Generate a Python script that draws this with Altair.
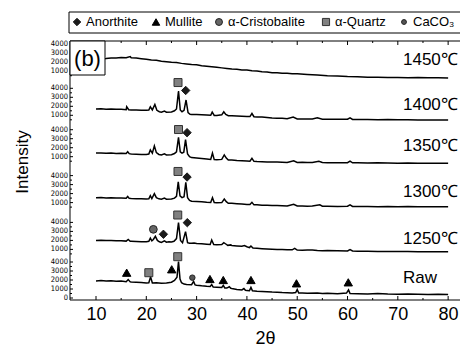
import altair as alt
import pandas as pd

# ---------------- data ----------------
groups = ["Raw", "1250", "1300", "1350", "1400", "1450"]
group_labels = ["Raw", "1250℃", "1300℃", "1350℃", "1400℃", "1450℃"]
offsets = [0, 4400, 9600, 14700, 19300, 24200]
x_ticks = [10, 20, 30, 40, 50, 60, 70, 80]
x_minor = [15, 25, 35, 45, 55, 65, 75]
y_tick_values = [1000, 2000, 3000, 4000]

raw_xrd = [(10,1900),(11,1950),(12,1880),(13,1920),(14,1850),(15,1880),(16,1800),(16.4,2050),(16.8,1790),
           (17,1780),(18,1750),(19,1720),(20,1680),(20.5,1700),(20.85,2350),(21.2,1680),(22,1700),(23,1650),
           (24,1680),(25,1750),(25.6,1950),(26.1,2300),(26.4,4050),(26.7,2100),(27.0,1700),(27.5,1550),
           (28,1500),(29,1480),(29.4,1850),(29.7,1450),(30,1420),(31,1350),(32,1300),(32.7,1280),(33.0,1500),
           (33.3,1220),(34,1200),(35,1180),(35.3,1400),(35.6,1120),(36,1100),(36.5,1250),(36.8,1080),(37,1050),
           (38,950),(39,900),(39.4,1050),(39.7,850),(40,820),(40.5,800),(40.8,1180),(41.1,800),(42,750),
           (43,720),(44,700),(45,660),(46,650),(47,600),(48,580),(49,560),(49.7,600),(50.0,950),(50.3,560),
           (51,550),(52,520),(54,550),(55,500),(56,520),(58,480),(59.8,550),(60.2,900),(60.5,500),(62,480),
           (64,450),(66,500),(68,440),(70,420),(72,450),(74,420),(76,400),(78,420),(80,400)]

t1250_xrd = [(10,2000),(11,2020),(12,1980),(13,2000),(14,1950),(15,1970),(16,1920),(16.4,2100),(16.8,1900),
             (17,1900),(18,1880),(19,1850),(20,1860),(20.5,1900),(20.8,2250),(21.1,1950),(21.4,2100),(21.8,2450),
             (22.2,2000),(22.6,1850),(23,1780),(23.6,1950),(24,1800),(24.5,1850),(25,1820),(25.5,1900),
             (26.0,2200),(26.4,3970),(26.8,2000),(27.2,1750),(27.8,2970),(28.2,1750),(28.6,1680),(29,1680),
             (29.5,1720),(30,1650),(31,1620),(32,1580),(32.7,1550),(33.0,2050),(33.4,1550),(34,1520),(35,1550),
             (35.4,1750),(35.8,1600),(36.2,1450),(36.8,1500),(37,1420),(38,1380),(39,1350),(39.5,1420),
             (40,1300),(40.5,1200),(40.8,1380),(41.2,1150),(42,1120),(43,1080),(44,1050),(45,1020),(46,1000),
             (47,1000),(48,950),(49,950),(49.5,1120),(50,920),(51,900),(52,920),(53,930),(54,880),(55,860),
             (56,880),(58,850),(60,820),(60.5,980),(61,820),(62,800),(64,800),(66,780),(68,780),(70,760),
             (72,770),(74,750),(76,740),(78,750),(80,740)]

t1300_xrd = [(10,1550),(11,1560),(12,1520),(13,1540),(14,1500),(15,1520),(16,1480),(16.3,1680),(16.6,1470),
             (17,1450),(18,1440),(19,1420),(20,1400),(20.5,1420),(20.8,1770),(21.1,1450),(21.6,2000),(22.0,1550),
             (22.5,1420),(23,1380),(23.6,1500),(24,1380),(25,1400),(25.6,1500),(26.0,1700),(26.35,3300),
             (26.7,1750),(27.1,1550),(27.5,1650),(27.85,3250),(28.2,1550),(28.6,1250),(29,1150),(30,1120),
             (31,1100),(32,1050),(32.8,1020),(33.15,1550),(33.5,1000),(34,980),(35,1000),(35.5,1400),(35.9,1100),
             (36.3,920),(37,920),(38,880),(39,850),(40,800),(40.6,780),(41.0,1030),(41.4,750),(42,750),(43,700),
             (44,700),(45,680),(46,680),(47,650),(48,620),(49.3,820),(50,620),(51,620),(52,600),(53,620),
             (54.5,750),(55,600),(56,600),(58,580),(60,600),(60.5,760),(61,580),(62,560),(64,570),(66,550),
             (68,580),(70,550),(72,560),(74,540),(76,550),(78,530),(80,540)]

t1350_xrd = [(10,1400),(11,1420),(12,1380),(13,1400),(14,1360),(15,1380),(16,1350),(16.3,1550),(16.6,1340),
             (17,1300),(18,1280),(19,1250),(20,1250),(20.5,1300),(20.8,1750),(21.2,1400),(21.6,2200),(22.0,1450),
             (22.5,1250),(23,1200),(23.6,1320),(24,1200),(25,1220),(25.6,1350),(26.0,1550),(26.4,3150),
             (26.75,1550),(27.1,1400),(27.45,1500),(27.8,2900),(28.2,1300),(28.6,1000),(29,900),(30,850),
             (31,800),(32,750),(32.8,700),(33.15,1400),(33.5,680),(34,650),(35,700),(35.5,1200),(35.9,850),
             (36.3,620),(37,620),(38,580),(39,560),(40,520),(40.6,500),(41.0,820),(41.4,480),(42,460),(43,440),
             (44,420),(45,400),(46,400),(47,380),(48,360),(49.3,550),(50,360),(51,370),(52,350),(53,360),
             (54.3,500),(55,350),(56,340),(58,330),(60,340),(60.5,500),(61,320),(62,320),(64,300),(66,320),
             (68,290),(70,280),(72,300),(74,280),(76,270),(78,280),(80,260)]

t1400_xrd = [(10,1700),(11,1720),(12,1680),(13,1700),(14,1660),(15,1680),(16,1620),(16.1,1950),(16.5,1620),
             (17,1600),(18,1580),(19,1560),(20,1550),(20.5,1580),(20.8,1950),(21.2,1600),(21.7,2200),(22.1,1550),
             (22.6,1400),(23,1350),(23.6,1480),(24,1350),(25,1380),(25.6,1500),(26.0,1700),(26.4,3700),
             (26.75,1600),(27.1,1400),(27.5,1550),(27.9,2700),(28.3,1300),(28.7,1120),(29,1100),(30,1080),
             (31,1050),(32,1020),(32.8,1000),(33.1,1350),(33.5,980),(34,980),(35,1050),(35.4,1400),(35.8,1100),
             (36.3,950),(37,950),(38,920),(39,900),(40,880),(40.6,860),(41.0,1200),(41.4,840),(42,820),(43,800),
             (44,750),(45,700),(46,680),(47,660),(48,620),(49.2,800),(50,600),(51,600),(52,580),(53,580),
             (54,720),(55,560),(56,550),(58,550),(60,560),(60.5,720),(61,540),(62,520),(64,520),(66,500),
             (68,520),(70,500),(72,500),(74,490),(76,480),(78,490),(80,480)]

t1450_xrd = [(10,2350),(11,2390),(12,2410),(13,2460),(14,2470),(15,2510),(16,2500),(16.8,2620),(17,2500),
             (18,2460),(19,2390),(20,2330),(21,2240),(22,2210),(23,2110),(24,2060),(25,1990),(26,1960),
             (27,1870),(28,1810),(29,1740),(30,1710),(31,1610),(32,1560),(33,1490),(34,1430),(35,1370),
             (36,1310),(37,1240),(38,1210),(39,1140),(40,1130),(41,1040),(42,1010),(43,940),(44,910),(45,840),
             (46,830),(47,770),(48,760),(49,720),(50,710),(52,640),(54,590),(56,490),(58,460),(60,400),
             (62,390),(64,340),(66,340),(68,300),(70,310),(72,280),(74,290),(76,260),(78,270),(80,250)]

spectra = [raw_xrd, t1250_xrd, t1300_xrd, t1350_xrd, t1400_xrd, t1450_xrd]

# phase markers: group, phase, 2theta, intensity within group
marker_group = ["Raw"] * 10 + ["1250"] * 4 + ["1300"] * 2 + ["1350"] * 2 + ["1400"] * 2
marker_phase = ["Mullite", "α-Quartz", "Mullite", "α-Quartz", "CaCO₃", "Mullite", "Mullite", "Mullite", "Mullite", "Mullite",
                "α-Cristobalite", "Anorthite", "α-Quartz", "Anorthite",
                "α-Quartz", "Anorthite",
                "α-Quartz", "Anorthite",
                "α-Quartz", "Anorthite"]
marker_tt = [16.1, 20.5, 25.05, 26.25, 29.15, 32.65, 35.3, 40.8, 49.85, 60.15,
             21.4, 23.4, 26.25, 28.15,
             26.3, 28.1,
             26.4, 28.1,
             26.3, 27.83]
marker_int = [2810, 2810, 3190, 4590, 2260, 2110, 2000, 2000, 1630, 1740,
              3230, 2680, 4820, 3970,
              4460, 3840,
              4020, 3670,
              4640, 3760]

legend_phases = ["Anorthite", "Mullite", "α-Cristobalite", "α-Quartz", "CaCO₃"]

# ---------------- build tables ----------------
off_of = dict(zip(groups, offsets))
rows = []
for g, pts in zip(groups, spectra):
    for i, (t, v) in enumerate(pts):
        rows.append({"g": g, "tt": t, "y": v + off_of[g], "o": i})
df = pd.DataFrame(rows)

mk = pd.DataFrame({"g": marker_group, "phase": marker_phase, "tt": marker_tt,
                   "y": [v + off_of[g] for g, v in zip(marker_group, marker_int)]})

ytk = []
for g in groups:
    vals = ([0] if g == "Raw" else []) + y_tick_values
    for v in vals:
        ytk.append({"y": v + off_of[g], "lab": str(v)})
ytk = pd.DataFrame(ytk)
yminor = pd.DataFrame({"y": [off_of[g] + v for g in groups for v in [500, 1500, 2500, 3500]]})

lab_df = pd.DataFrame({"lab": group_labels, "y": [o + 2200 for o in offsets]})

W, H = 390, 259
FONT = "Liberation Sans, Arial, sans-serif"
NARROW = "Liberation Sans Narrow, DejaVu Sans Condensed, sans-serif"
xs = alt.Scale(domain=[4.83, 82.36], nice=False, zero=False)
ys = alt.Scale(domain=[-222, 28556], nice=False, zero=False)
xax = alt.Axis(values=x_ticks, title="2θ", grid=False, domain=False, ticks=False, tickSize=0,
               labelFontSize=18, labelFont=FONT, labelColor="black", labelPadding=5, titleFont=FONT,
               titleFontSize=18, titleFontWeight="normal", titleColor="black", titlePadding=6)
one = pd.DataFrame({"a": [0]})


def X():
    return alt.X("tt:Q", scale=xs, axis=xax)


def Y():
    return alt.Y("y:Q", scale=ys, axis=None)


lines = alt.Chart(df).mark_line(color="black", strokeWidth=1.5).encode(
    x=X(), y=Y(), detail="g:N", order="o:Q")

layers = [lines]

# frame (top, bottom, left; the right side is beyond the picture)
layers.append(alt.Chart(one).mark_rule(color="black", strokeWidth=1).encode(
    x=alt.value(0), x2=alt.value(W), y=alt.value(0)))
layers.append(alt.Chart(one).mark_rule(color="black", strokeWidth=1).encode(
    x=alt.value(0), x2=alt.value(W), y=alt.value(H)))
layers.append(alt.Chart(one).mark_rule(color="black", strokeWidth=1).encode(
    x=alt.value(0), y=alt.value(0), y2=alt.value(H)))

# x ticks (inward, bottom and top)
xt = pd.DataFrame({"tt": x_ticks})
xm = pd.DataFrame({"tt": x_minor})
layers.append(alt.Chart(xt).mark_rule(color="black").encode(x=X(), y=alt.value(H), y2=alt.value(H - 4)))
layers.append(alt.Chart(xt).mark_rule(color="black").encode(x=X(), y=alt.value(0), y2=alt.value(4)))
layers.append(alt.Chart(xm).mark_rule(color="black").encode(x=X(), y=alt.value(H), y2=alt.value(H - 2)))
layers.append(alt.Chart(xm).mark_rule(color="black").encode(x=X(), y=alt.value(0), y2=alt.value(2)))
# y ticks and labels
layers.append(alt.Chart(ytk).mark_rule(color="black").encode(y=Y(), x=alt.value(0), x2=alt.value(3)))
layers.append(alt.Chart(yminor).mark_rule(color="black").encode(y=Y(), x=alt.value(0), x2=alt.value(2)))
layers.append(alt.Chart(ytk).mark_text(align="right", baseline="middle", fontSize=7.5, font=NARROW,
                                       color="black").encode(y=Y(), x=alt.value(-2), text="lab:N"))

# phase markers
styles = {
    "Anorthite": dict(shape="diamond", fill="#1a1a1a", stroke="#1a1a1a", size=70),
    "Mullite": dict(shape="triangle-up", fill="black", stroke="black", size=70),
    "α-Cristobalite": dict(shape="circle", fill="#666666", stroke="#222222", size=60),
    "α-Quartz": dict(shape="square", fill="#808080", stroke="#333333", size=64),
    "CaCO₃": dict(shape="circle", fill="#555555", stroke="#222222", size=30),
}
for ph, st in styles.items():
    sub = mk[mk["phase"] == ph]
    if len(sub):
        layers.append(alt.Chart(sub).mark_point(shape=st["shape"], filled=True, fill=st["fill"],
                                                stroke=st["stroke"], strokeWidth=1, size=st["size"],
                                                opacity=1).encode(x=X(), y=Y()))

# temperature labels
layers.append(alt.Chart(lab_df).mark_text(align="left", baseline="middle", fontSize=17, font=FONT,
                                          color="black").encode(x=alt.value(333), y=Y(), text="lab:N"))

# (b) box
layers.append(alt.Chart(one).mark_rect(fill="white", stroke="black", strokeWidth=1).encode(
    x=alt.value(0), x2=alt.value(35), y=alt.value(0), y2=alt.value(34)))
layers.append(alt.Chart(one).mark_text(text="(b)", fontSize=22, font=FONT, color="black",
                                       align="center", baseline="middle").encode(
    x=alt.value(17.5), y=alt.value(18)))

# y title
layers.append(alt.Chart(one).mark_text(text="Intensity", fontSize=17, font=FONT, color="black",
                                       angle=270, align="center", baseline="middle").encode(
    x=alt.value(-47), y=alt.value(121)))

# legend box
layers.append(alt.Chart(one).mark_rect(fill="white", stroke="black", strokeWidth=1).encode(
    x=alt.value(-1), x2=alt.value(430), y=alt.value(-29), y2=alt.value(-8)))
sym_x = [7, 86, 149, 256, 334]
for ph, sx in zip(legend_phases, sym_x):
    st = styles[ph]
    layers.append(alt.Chart(one).mark_point(shape=st["shape"], filled=True, fill=st["fill"],
                                            stroke=st["stroke"], strokeWidth=1, size=st["size"] * 0.8,
                                            opacity=1).encode(x=alt.value(sx), y=alt.value(-19)))
    layers.append(alt.Chart(one).mark_text(text=ph, fontSize=13, font=FONT, color="black",
                                           align="left", baseline="middle").encode(
        x=alt.value(sx + 9), y=alt.value(-19)))

chart = alt.layer(*layers).properties(
    width=W, height=H,
    autosize=alt.AutoSizeParams(type="none"),
    padding={"left": 62, "top": 33, "right": 0, "bottom": 48},
).configure_view(stroke=None)

chart.save("out.html", embed_options={"renderer": "svg", "actions": False})
